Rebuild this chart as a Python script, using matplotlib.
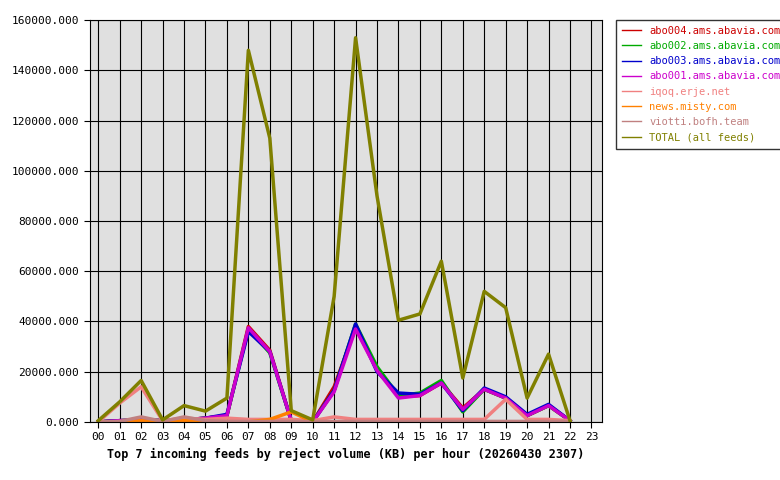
import matplotlib
matplotlib.use("Agg")
from matplotlib import pyplot as plt
from matplotlib.ticker import FuncFormatter

hours = list(range(23))
hour_labels = ["%02d" % h for h in range(24)]

abo004 = [0, 500, 800, 500, 800, 1500, 2500, 38000, 28500, 500, 0, 14000, 37500, 21000, 10000, 10500, 15500, 5500, 13000, 9500, 2500, 6500, 500]
abo002 = [0, 500, 800, 500, 800, 1500, 2500, 37000, 27500, 500, 0, 12500, 39000, 22000, 10500, 11500, 16500, 4000, 13000, 9500, 2500, 6500, 500]
abo003 = [0, 500, 800, 500, 800, 1500, 3000, 36000, 28000, 500, 0, 12500, 39000, 20000, 11500, 11000, 15500, 4500, 13500, 10000, 3000, 7000, 500]
abo001 = [0, 500, 800, 500, 800, 1500, 2500, 37500, 28000, 500, 0, 12000, 37000, 20500, 9500, 10500, 15500, 5000, 13000, 9500, 2500, 6500, 500]
iqoq = [0, 7500, 14000, 500, 1500, 1000, 1500, 1000, 1000, 1000, 500, 2000, 1000, 1000, 1000, 1000, 1000, 1000, 1000, 9000, 1000, 1000, 500]
news = [0, 0, 500, 0, 500, 0, 0, 0, 1000, 4000, 0, 0, 0, 0, 0, 0, 0, 0, 0, 0, 0, 0, 0]
viotti = [0, 200, 2000, 200, 2000, 500, 200, 200, 200, 200, 200, 200, 200, 200, 200, 200, 200, 200, 200, 200, 200, 200, 200]
total = [500, 8000, 16500, 800, 6500, 4300, 9500, 148000, 113000, 4500, 800, 50000, 153000, 90000, 40500, 43000, 64000, 17500, 52000, 45500, 9500, 27000, 500]

series = [
    ("abo004.ams.abavia.com", abo004, "#cc0000"),
    ("abo002.ams.abavia.com", abo002, "#00aa00"),
    ("abo003.ams.abavia.com", abo003, "#0000cc"),
    ("abo001.ams.abavia.com", abo001, "#cc00cc"),
    ("iqoq.erje.net", iqoq, "#f08080"),
    ("news.misty.com", news, "#ff8000"),
    ("viotti.bofh.team", viotti, "#c08080"),
    ("TOTAL (all feeds)", total, "#808000"),
]

plt.rcParams["font.family"] = "DejaVu Sans Mono"
fig = plt.figure(figsize=(7.8, 4.8), dpi=100)
ax = fig.add_axes([0.115, 0.121, 0.657, 0.837])
ax.set_facecolor("#e0e0e0")

for name, vals, col in series:
    ax.plot(hours, vals, color=col, lw=2.5, label=name, marker="s", markersize=0)

ax.set_xlim(-0.4, 23.5)
ax.set_ylim(0, 160000)
ax.set_xticks(range(24))
ax.set_xticklabels(hour_labels, fontsize=8)
ax.set_yticks(range(0, 160001, 20000))
ax.yaxis.set_major_formatter(FuncFormatter(lambda v, p: "%.3f" % v))
ax.tick_params(labelsize=8, length=4)
ax.grid(True, color="black", lw=0.8)
ax.set_axisbelow(True)
ax.set_xlabel("Top 7 incoming feeds by reject volume (KB) per hour (20260430 2307)",
              fontsize=8.5, fontweight="bold", labelpad=4)

leg = fig.legend(loc="upper left", bbox_to_anchor=(0.783, 0.97), fontsize=7.5,
                 frameon=True, fancybox=False, edgecolor="black", handlelength=1.8,
                 borderpad=0.6, labelspacing=0.5)
for line in leg.get_lines():
    line.set_linewidth(1)
for text, (_, _, col) in zip(leg.get_texts(), series):
    text.set_color(col)

fig.savefig("out.png")
